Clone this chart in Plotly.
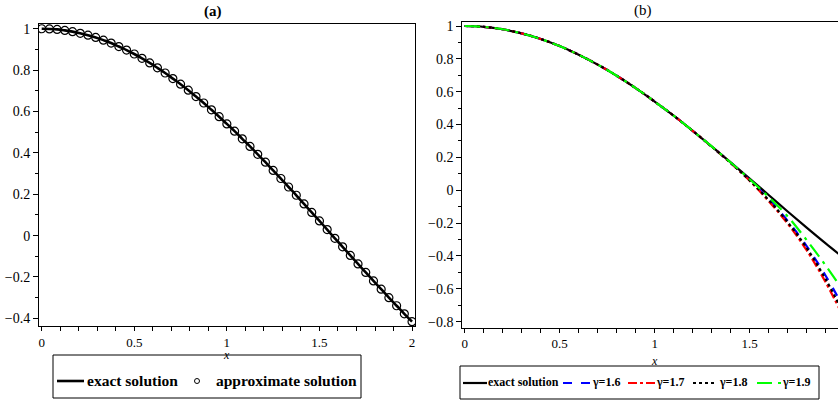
import plotly.graph_objects as go

# ---------------- data ----------------
# panel (a): exact solution and approximate solution (x = 0 .. 2, step 1/24)
xa = [0.0, 0.0417, 0.0833, 0.125, 0.1667, 0.2083, 0.25, 0.2917, 0.3333, 0.375,
      0.4167, 0.4583, 0.5, 0.5417, 0.5833, 0.625, 0.6667, 0.7083, 0.75, 0.7917,
      0.8333, 0.875, 0.9167, 0.9583, 1.0, 1.0417, 1.0833, 1.125, 1.1667, 1.2083,
      1.25, 1.2917, 1.3333, 1.375, 1.4167, 1.4583, 1.5, 1.5417, 1.5833, 1.625,
      1.6667, 1.7083, 1.75, 1.7917, 1.8333, 1.875, 1.9167, 1.9583, 2.0]
exact_a = [1.000, 0.999, 0.997, 0.992, 0.986, 0.978, 0.969, 0.958, 0.945, 0.931,
           0.914, 0.897, 0.878, 0.857, 0.835, 0.811, 0.786, 0.759, 0.732, 0.703,
           0.672, 0.641, 0.608, 0.575, 0.540, 0.505, 0.468, 0.431, 0.393, 0.355,
           0.315, 0.276, 0.235, 0.195, 0.153, 0.112, 0.071, 0.029, -0.013, -0.054,
           -0.096, -0.137, -0.178, -0.219, -0.259, -0.300, -0.339, -0.378, -0.416]
approx_a = [1.000, 0.999, 0.997, 0.992, 0.986, 0.978, 0.969, 0.958, 0.945, 0.931,
            0.914, 0.897, 0.878, 0.857, 0.835, 0.811, 0.786, 0.759, 0.732, 0.703,
            0.672, 0.641, 0.608, 0.575, 0.540, 0.505, 0.468, 0.431, 0.393, 0.355,
            0.315, 0.276, 0.235, 0.195, 0.153, 0.112, 0.071, 0.029, -0.013, -0.054,
            -0.096, -0.137, -0.178, -0.219, -0.259, -0.300, -0.339, -0.378, -0.416]

# panel (b): exact solution and fractional-order solutions
xb = [0.0, 0.1, 0.2, 0.3, 0.4, 0.5, 0.6, 0.7, 0.8, 0.9, 1.0,
      1.1, 1.2, 1.3, 1.4, 1.5, 1.6, 1.7, 1.8, 1.9, 2.0]
exact_b = [1.000, 0.995, 0.980, 0.955, 0.921, 0.878, 0.825, 0.765, 0.697, 0.622, 0.540,
           0.454, 0.362, 0.267, 0.170, 0.071, -0.029, -0.129, -0.227, -0.323, -0.416]
g16 = [1.000, 0.995, 0.980, 0.955, 0.921, 0.878, 0.825, 0.765, 0.697, 0.622, 0.540,
       0.454, 0.362, 0.266, 0.167, 0.061, -0.054, -0.186, -0.340, -0.520, -0.725]
g17 = [1.000, 0.995, 0.980, 0.955, 0.921, 0.878, 0.825, 0.765, 0.697, 0.622, 0.540,
       0.454, 0.362, 0.266, 0.166, 0.058, -0.066, -0.203, -0.365, -0.560, -0.785]
g18 = [1.000, 0.995, 0.980, 0.955, 0.921, 0.878, 0.825, 0.765, 0.697, 0.622, 0.540,
       0.454, 0.362, 0.266, 0.167, 0.060, -0.059, -0.194, -0.351, -0.541, -0.761]
g19 = [1.000, 0.995, 0.980, 0.955, 0.921, 0.878, 0.825, 0.765, 0.697, 0.622, 0.540,
       0.454, 0.362, 0.267, 0.169, 0.067, -0.041, -0.159, -0.303, -0.458, -0.626]

names_a = ["exact solution", "approximate solution"]
names_b = ["exact solution", "γ=1.6", "γ=1.7", "γ=1.8", "γ=1.9"]
colors_b = ["black", "#0000ff", "#ff0000", "black", "#00ff00"]
dashes_b = ["solid", "dash", "dashdot", "dot", "longdashdot"]

# ---------------- figure ----------------
W, H = 838, 402
FONT = "Liberation Serif"


def px_x(p):
    return p / W


def px_y(p):
    return 1 - p / H


fig = go.Figure()

# panel (a)
fig.add_trace(go.Scatter(
    x=xa, y=exact_a, mode="lines", name=names_a[0], showlegend=False,
    line=dict(color="black", width=2.6, shape="spline"),
    xaxis="x", yaxis="y"))
fig.add_trace(go.Scatter(
    x=xa, y=approx_a, mode="markers", name=names_a[1], showlegend=False,
    marker=dict(symbol="circle-open", size=8, color="black", line=dict(width=1.2)),
    xaxis="x", yaxis="y"))

# panel (b)
for name, yy, c, d in zip(names_b, [exact_b, g16, g17, g18, g19], colors_b, dashes_b):
    fig.add_trace(go.Scatter(
        x=xb, y=yy, mode="lines", name=name, showlegend=False,
        line=dict(shape="spline", color=c, width=2.2, dash=d),
        xaxis="x2", yaxis="y2"))

tickfont = dict(family=FONT, size=14, color="black")
xtickfont = dict(family=FONT, size=13, color="black")
common = dict(showline=True, linecolor="black", linewidth=1, mirror=True,
              ticks="outside", tickwidth=1, tickcolor="black",
              showgrid=False, zeroline=False, automargin=False)

shapes = []
annotations = [
    dict(text="(a)", x=px_x(213), y=px_y(12), xref="paper", yref="paper",
         xanchor="center", yanchor="middle", showarrow=False,
         font=dict(family=FONT, size=15, color="black", weight="bold")),
    dict(text="(b)", x=px_x(643), y=px_y(10), xref="paper", yref="paper",
         xanchor="center", yanchor="middle", showarrow=False,
         font=dict(family=FONT, size=15, color="black")),
    dict(text="<i>x</i>", x=px_x(226), y=px_y(355), xref="paper", yref="paper",
         xanchor="center", yanchor="middle", showarrow=False,
         font=dict(family=FONT, size=12, color="black")),
    dict(text="<i>x</i>", x=px_x(654), y=px_y(361), xref="paper", yref="paper",
         xanchor="center", yanchor="middle", showarrow=False,
         font=dict(family=FONT, size=12, color="black")),
]


def box(x0, x1, y0, y1):
    shapes.append(dict(type="rect", xref="paper", yref="paper",
                       x0=px_x(x0), x1=px_x(x1), y0=px_y(y1), y1=px_y(y0),
                       line=dict(color="black", width=1), fillcolor="white", layer="below"))


def sample(x0, x1, yc, color, dash, width):
    shapes.append(dict(type="line", xref="paper", yref="paper",
                       x0=px_x(x0), x1=px_x(x1), y0=px_y(yc), y1=px_y(yc),
                       line=dict(color=color, width=width, dash=dash), layer="above"))


def label(text, x0, yc, size):
    annotations.append(dict(text=text, x=px_x(x0), y=px_y(yc), xref="paper", yref="paper",
                            xanchor="left", yanchor="middle", showarrow=False,
                            font=dict(family=FONT, size=size, color="black", weight="bold")))


# legend of panel (a)
box(53, 361, 355, 398)
sample(57, 84, 381, "black", "solid", 2.6)
label(names_a[0], 85, 380, 15.5)
shapes.append(dict(type="circle", xref="paper", yref="paper",
                   x0=px_x(194.5), x1=px_x(199.5), y0=px_y(383.5), y1=px_y(378.5),
                   line=dict(color="black", width=1), layer="above"))
label(names_a[1], 214, 380, 15.5)

# legend of panel (b)
box(460, 819, 366, 399)
pos_b = [(463, 487, 486), (563, 592, 590), (628, 655, 654), (693, 717, 717), (757, 782, 780)]
for name, c, d, (s0, s1, t0) in zip(names_b, colors_b, dashes_b, pos_b):
    sample(s0, s1, 383, c, d, 2.2)
    label(name, t0, 382, 12)

fig.update_layout(
    width=W, height=H,
    margin=dict(l=0, r=0, t=0, b=0),
    paper_bgcolor="white", plot_bgcolor="white",
    font=dict(family=FONT, color="black"),
    showlegend=False,
    xaxis=dict(domain=[px_x(39), px_x(415)], range=[-0.0145, 2.016],
               tickvals=[0, 0.5, 1, 1.5, 2], ticktext=["0", "0.5", "1", "1.5", "2"],
               ticklen=4, tickfont=xtickfont,
               minor=dict(dtick=0.1, tick0=0, ticks="outside", ticklen=4, tickcolor="black"),
               anchor="y", **common),
    yaxis=dict(domain=[px_y(326), px_y(24)], range=[-0.437, 1.023],
               tickvals=[-0.4, -0.2, 0, 0.2, 0.4, 0.6, 0.8, 1],
               ticktext=["−0.4", "−0.2", "0", "0.2", "0.4", "0.6", "0.8", "1"],
               ticklen=5, tickfont=tickfont,
               minor=dict(dtick=0.1, tick0=0, ticks="outside", ticklen=3, tickcolor="black"),
               anchor="x", **common),
    xaxis2=dict(domain=[px_x(462.3), 1.0], range=[-0.0126, 1.965],
                tickvals=[0, 0.5, 1, 1.5], ticktext=["0", "0.5", "1", "1.5"],
                ticklen=4, tickfont=xtickfont,
                minor=dict(dtick=0.1, tick0=0, ticks="outside", ticklen=4, tickcolor="black"),
                anchor="y2", **common),
    yaxis2=dict(domain=[px_y(327.7), px_y(22.3)], range=[-0.8365, 1.0225],
                tickvals=[-0.8, -0.6, -0.4, -0.2, 0, 0.2, 0.4, 0.6, 0.8, 1],
                ticktext=["−0.8", "−0.6", "−0.4", "−0.2", "0", "0.2", "0.4", "0.6", "0.8", "1"],
                ticklen=5, tickfont=tickfont,
                minor=dict(dtick=0.1, tick0=0, ticks="outside", ticklen=3, tickcolor="black"),
                anchor="x2", **common),
    shapes=shapes,
    annotations=annotations,
)

fig.write_html("out.html", config={"displayModeBar": False},
               post_script="document.body.style.margin='0';")
